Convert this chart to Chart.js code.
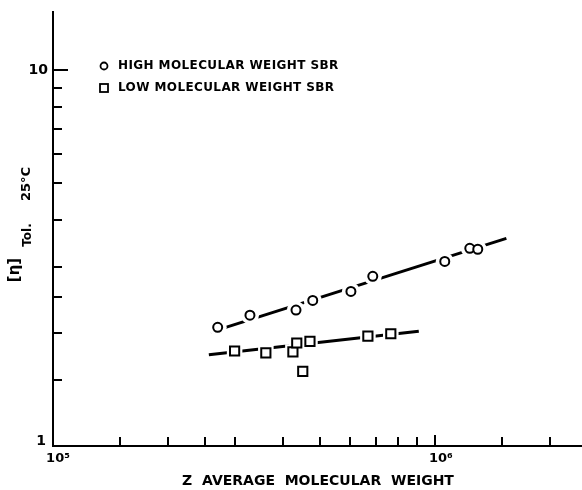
<!DOCTYPE html>
<html>
<head>
<meta charset="utf-8">
<script src="https://cdn.jsdelivr.net/npm/chart.js@4"></script>
<style>
  html, body { margin: 0; padding: 0; background: #fff; }
  canvas { display: block; }
</style>
</head>
<body>
<canvas id="chart" width="582" height="490"></canvas>
<script>
// values (log-log)
const highX = [2.70e5, 3.28e5, 4.33e5, 4.79e5, 6.03e5, 6.88e5, 1.062e6, 1.235e6, 1.296e6];
const highY = [2.07, 2.23, 2.30, 2.44, 2.58, 2.83, 3.10, 3.36, 3.34];
const lowX = [2.99e5, 3.61e5, 4.25e5, 4.35e5, 4.71e5, 4.51e5, 6.68e5, 7.67e5];
const lowY = [1.79, 1.77, 1.78, 1.88, 1.90, 1.58, 1.96, 1.99];
const highFitX = [2.59e5, 1.54e6];
const highFitY = [2.01, 3.57];
const lowFitX = [2.56e5, 9.08e5];
const lowFitY = [1.75, 2.02];

const xTicks = [1.5e5, 2e5, 2.5e5, 3e5, 4e5, 5e5, 6e5, 7e5, 8e5, 9e5, 1e6, 1.5e6, 2e6];
const yTicks = [1.5, 2, 2.5, 3, 4, 5, 6, 7, 8, 9, 10];
const seriesNames = ['HIGH MOLECULAR WEIGHT SBR', 'LOW MOLECULAR WEIGHT SBR'];

const pts = (xs, ys) => xs.map((x, i) => ({ x: x, y: ys[i] }));
const FONT = '"DejaVu Sans", sans-serif';

const decorPlugin = {
    id: 'decor',
    afterDraw(chart) {
        const ctx = chart.ctx;
        const xs = chart.scales.x;
        const ys = chart.scales.y;
        const area = chart.chartArea;
        ctx.save();
        ctx.strokeStyle = '#000';
        ctx.fillStyle = '#000';
        ctx.lineWidth = 2;

        // inward tick marks
        xTicks.forEach(v => {
            const px = Math.round(xs.getPixelForValue(v));
            const len = v === 1e6 ? 11 : 9;
            ctx.beginPath();
            ctx.moveTo(px, area.bottom);
            ctx.lineTo(px, area.bottom - len);
            ctx.stroke();
        });
        yTicks.forEach(v => {
            const py = Math.round(ys.getPixelForValue(v));
            const len = v === 10 ? 15 : 9;
            ctx.beginPath();
            ctx.moveTo(area.left, py);
            ctx.lineTo(area.left + len, py);
            ctx.stroke();
        });

        // tick labels
        ctx.font = 'bold 14px ' + FONT;
        ctx.textAlign = 'right';
        ctx.textBaseline = 'middle';
        ctx.fillText('10', area.left - 5, ys.getPixelForValue(10));
        ctx.textBaseline = 'bottom';
        ctx.fillText('1', area.left - 7, ys.getPixelForValue(1) + 2);
        ctx.textAlign = 'center';
        ctx.textBaseline = 'top';
        ctx.font = 'bold 13px ' + FONT;
        ctx.fillText('10⁵', xs.getPixelForValue(1e5) + 5, area.bottom + 6);
        ctx.fillText('10⁶', xs.getPixelForValue(1e6) + 6, area.bottom + 6);

        // x title
        ctx.font = 'bold 14px ' + FONT;
        ctx.textBaseline = 'middle';
        ctx.fillText('Z  AVERAGE  MOLECULAR  WEIGHT', 318, 481);

        // y title pieces, rotated
        const rot = (txt, cx, cy, font) => {
            ctx.save();
            ctx.translate(cx, cy);
            ctx.rotate(-Math.PI / 2);
            ctx.font = font;
            ctx.textAlign = 'center';
            ctx.textBaseline = 'middle';
            ctx.fillText(txt, 0, 0);
            ctx.restore();
        };
        rot('[η]', 15, 270, 'bold 15px ' + FONT);
        rot('Tol.', 28, 235, 'bold 12px ' + FONT);
        rot('25°C', 27, 184, 'bold 13px ' + FONT);

        // legend
        ctx.font = 'bold 12px ' + FONT;
        ctx.letterSpacing = '0.4px';
        ctx.textAlign = 'left';
        ctx.textBaseline = 'middle';
        ctx.lineWidth = 1.8;
        ctx.beginPath();
        ctx.arc(104, 66, 3.5, 0, Math.PI * 2);
        ctx.stroke();
        ctx.strokeRect(100, 84, 8, 8);
        ctx.fillText(seriesNames[0], 118, 66);
        ctx.fillText(seriesNames[1], 118, 88);
        ctx.restore();
    }
};

new Chart(document.getElementById('chart'), {
    type: 'scatter',
    data: {
        datasets: [
            {
                data: pts(highFitX, highFitY), showLine: true, borderColor: '#000',
                borderWidth: 3, pointRadius: 0, order: 3
            },
            {
                data: pts(lowFitX, lowFitY), showLine: true, borderColor: '#000',
                borderWidth: 3, pointRadius: 0, order: 3
            },
            {
                data: pts(highX, highY), pointRadius: 9, backgroundColor: '#fff',
                borderColor: '#fff', pointBorderWidth: 0, order: 2
            },
            {
                data: pts(lowX, lowY), pointStyle: 'rect', pointRadius: 11, backgroundColor: '#fff',
                borderColor: '#fff', pointBorderWidth: 0, order: 2
            },
            {
                label: seriesNames[0], data: pts(highX, highY), pointRadius: 4.5,
                backgroundColor: '#fff', borderColor: '#000', pointBorderWidth: 2, order: 1
            },
            {
                label: seriesNames[1], data: pts(lowX, lowY), pointStyle: 'rect', pointRadius: 6.5,
                backgroundColor: '#fff', borderColor: '#000', pointBorderWidth: 2, order: 1
            }
        ]
    },
    options: {
        responsive: false,
        animation: false,
        layout: { autoPadding: false, padding: { left: 53, top: 12, right: 0, bottom: 44 } },
        plugins: { legend: { display: false }, tooltip: { enabled: false } },
        scales: {
            x: {
                type: 'logarithmic', min: 1e5, max: 2.43e6,
                ticks: { display: false },
                grid: { drawOnChartArea: false, drawTicks: false },
                border: { color: '#000', width: 2 }
            },
            y: {
                type: 'logarithmic', min: 1, max: 14.3,
                ticks: { display: false },
                grid: { drawOnChartArea: false, drawTicks: false },
                border: { color: '#000', width: 2 }
            }
        }
    },
    plugins: [decorPlugin]
});
</script>
</body>
</html>
